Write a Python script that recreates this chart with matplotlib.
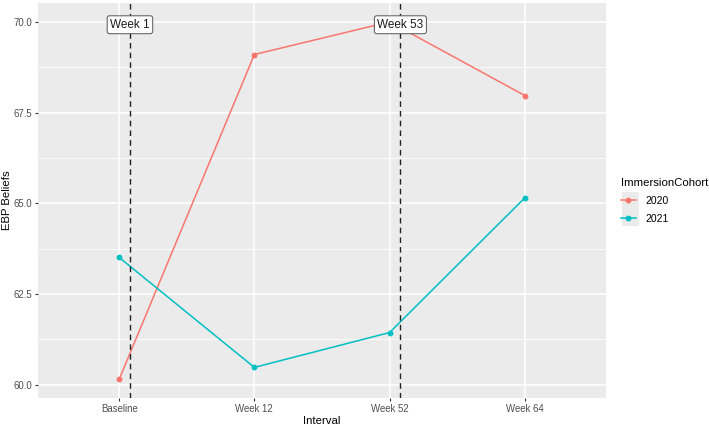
import matplotlib
matplotlib.use("Agg")
import matplotlib.pyplot as plt
from matplotlib.lines import Line2D
from matplotlib.patches import Rectangle
import numpy as np

plt.rcParams["font.family"] = ["Liberation Sans", "DejaVu Sans"]

# data
intervals = ["Baseline", "Week 12", "Week 52", "Week 64"]
cohort_2020 = [60.15, 69.10, 70.00, 67.97]
cohort_2021 = [63.51, 60.48, 61.44, 65.15]
cohorts = ["2020", "2021"]
colors = ["#F8766D", "#00BFC4"]
event_x = [1.08, 3.08]
event_labels = ["Week 1", "Week 53"]

fig = plt.figure(figsize=(7.09, 4.26), dpi=100)
ax = fig.add_axes([0.0536, 0.066, 0.801, 0.927])
ax.set_facecolor("#EBEBEB")
for s in ax.spines.values():
    s.set_visible(False)

x = np.arange(1, len(intervals) + 1)
for vals, col, lab in zip([cohort_2020, cohort_2021], colors, cohorts):
    ax.plot(x, vals, color=col, lw=1.1, marker="o", ms=3.2, label=lab, zorder=3)

for xv, txt in zip(event_x, event_labels):
    ax.axvline(xv, color="#222222", lw=1.0, ls=(0, (4, 3)), zorder=4)
    ax.text(xv, 69.92, txt, ha="center", va="center", fontsize=8.5, color="#1a1a1a",
            zorder=5,
            bbox=dict(boxstyle="round,pad=0.25,rounding_size=0.2", fc="white",
                      ec="#555555", lw=0.7))

ax.set_xlim(0.4, 4.6)
ax.set_ylim(59.64, 70.52)
ax.set_xticks(x)
ax.set_xticklabels(intervals)
ax.set_yticks([60.0, 62.5, 65.0, 67.5, 70.0])
ax.set_yticklabels(["60.0", "62.5", "65.0", "67.5", "70.0"])
ax.set_yticks([61.25, 63.75, 66.25, 68.75], minor=True)
ax.grid(True, which="major", color="white", lw=1.1, zorder=0)
ax.grid(True, which="minor", axis="y", color="white", lw=0.55, zorder=0)
ax.set_axisbelow(True)
ax.tick_params(which="major", length=2.5, width=0.8, color="#333333",
               labelsize=6.9, labelcolor="#4D4D4D", pad=2)
ax.tick_params(which="minor", length=0)
ax.set_xlabel("Interval", fontsize=8.2, color="black", labelpad=1)
ax.set_ylabel("EBP Beliefs", fontsize=8.2, color="black")
ax.yaxis.set_label_coords(-0.046, 0.5)

# grey key background like ggplot legend keys
for i in range(2):
    fig.patches.append(Rectangle((622 / 709, 1 - (192 + 17 * (i + 1)) / 426),
                                 17 / 709, 17 / 426, transform=fig.transFigure,
                                 fc="#EBEBEB", ec="none", zorder=0))

handles = [Line2D([], [], color=c, lw=1.1, marker="o", ms=3.2) for c in colors]
leg = fig.legend(handles, cohorts, title="ImmersionCohort", loc="upper left",
                 bbox_to_anchor=(0.876, 0.582), frameon=False, fontsize=7.5,
                 title_fontsize=8.2, handlelength=1.4, handletextpad=0.9,
                 labelspacing=0.75, borderaxespad=0, borderpad=0)
leg._legend_box.align = "left"

fig.savefig("out.png", dpi=100)
plt.close(fig)
